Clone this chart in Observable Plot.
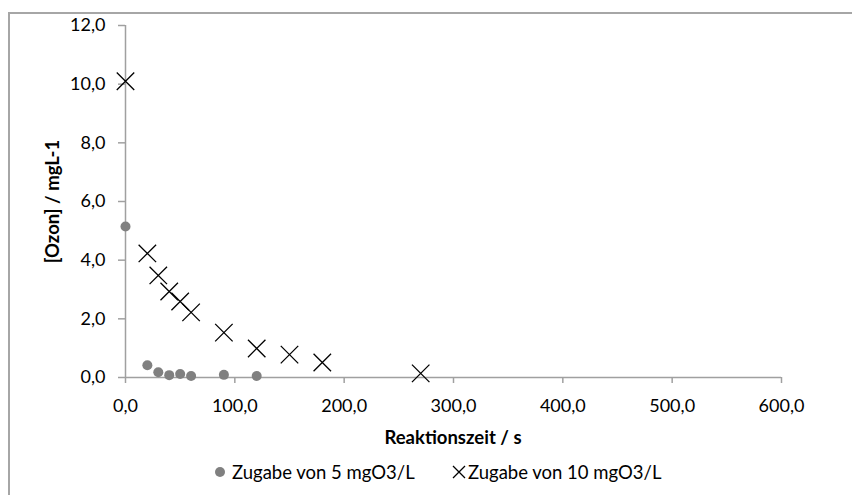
<!DOCTYPE html>
<html>
<head>
<meta charset="utf-8">
<script src="https://cdn.jsdelivr.net/npm/d3@7"></script>
<script src="https://cdn.jsdelivr.net/npm/@observablehq/plot@0.6"></script>
<style>
  html, body { margin: 0; padding: 0; background: #fff; }
  body { width: 852px; height: 495px; overflow: hidden; position: relative; font-family: Lato, "Open Sans", sans-serif; color: #000; }
  #frame { position: absolute; left: 8px; top: 12px; width: 900px; height: 600px; border-top: 2px solid #a6a6a6; border-left: 2px solid #a6a6a6; box-sizing: border-box; }
  #chart { position: absolute; left: 0; top: 0; }
  #xlabel { position: absolute; top: 427px; left: 125px; width: 656px; text-align: center; font-weight: bold; font-size: 18.5px; line-height: 20px; }
  .legend-item { position: absolute; top: 462px; display: flex; align-items: center; font-size: 18.5px; line-height: 20px; white-space: nowrap; }
  g[aria-label="y-axis label"] text { font-weight: bold; font-size: 18.5px; }
</style>
</head>
<body>
<div id="frame"></div>
<div id="chart"></div>
<div id="xlabel">Reaktionszeit / s</div>
<div id="legend"></div>
<script>
// Data
const times5 = [0, 20, 30, 40, 50, 60, 90, 120];
const ozon5 = [5.15, 0.42, 0.18, 0.08, 0.12, 0.05, 0.09, 0.05];
const times10 = [0, 20, 30, 40, 50, 60, 90, 120, 150, 180, 270];
const ozon10 = [10.1, 4.23, 3.48, 2.93, 2.59, 2.22, 1.53, 0.99, 0.78, 0.51, 0.14];
const xTicks = [0, 100, 200, 300, 400, 500, 600];
const yTicks = [0, 2, 4, 6, 8, 10, 12];
const seriesNames = ["Zugabe von 5 mgO3/L", "Zugabe von 10 mgO3/L"];

const fmt = d => d.toFixed(1).replace(".", ",");
const data5 = times5.map((t, i) => ({t, v: ozon5[i]}));
const data10 = times10.map((t, i) => ({t, v: ozon10[i]}));

const chart = Plot.plot({
  width: 852,
  height: 420,
  marginLeft: 125,
  marginRight: 71,
  marginTop: 25,
  marginBottom: 43,
  style: {fontFamily: "Lato, 'Open Sans', sans-serif", fontSize: "18px", background: "transparent", color: "#000"},
  x: {domain: [0, 600]},
  y: {domain: [0, 12]},
  marks: [
    Plot.ruleX([0], {stroke: "#a0a0a0", strokeWidth: 1.5}),
    Plot.ruleY([0], {stroke: "#a0a0a0", strokeWidth: 1.5}),
    Plot.axisY({ticks: yTicks, tickFormat: fmt, tickSize: 7, tickPadding: 13, stroke: "#a0a0a0", strokeWidth: 1.5, fill: "#000", fontSize: 18,
      label: "[Ozon] / mgL-1", labelAnchor: "center", labelArrow: "none", labelOffset: 80}),
    Plot.axisX({ticks: xTicks, tickFormat: fmt, tickSize: 6, tickPadding: 16, stroke: "#a0a0a0", strokeWidth: 1.5, fill: "#000", fontSize: 18, label: null}),
    Plot.dot(data5, {x: "t", y: "v", r: 5, fill: "#808080", stroke: "none"}),
    Plot.dot(data10, {x: "t", y: "v", r: 8, symbol: "times", stroke: "#000", strokeWidth: 1.3})
  ]
});
document.getElementById("chart").appendChild(chart);

// Legend
const legend = document.getElementById("legend");
const swatches = [
  '<svg width="10" height="10" style="margin-right:7px"><circle cx="5" cy="5" r="5" fill="#808080"/></svg>',
  '<svg width="14" height="14" style="margin-right:2px"><path d="M1,1L13,13M13,1L1,13" stroke="#000" stroke-width="1.3"/></svg>'
];
const lefts = [215, 452];
seriesNames.forEach((name, i) => {
  const item = document.createElement("div");
  item.className = "legend-item";
  item.style.left = lefts[i] + "px";
  item.innerHTML = swatches[i] + '<span>' + name + '</span>';
  legend.appendChild(item);
});
</script>
</body>
</html>
